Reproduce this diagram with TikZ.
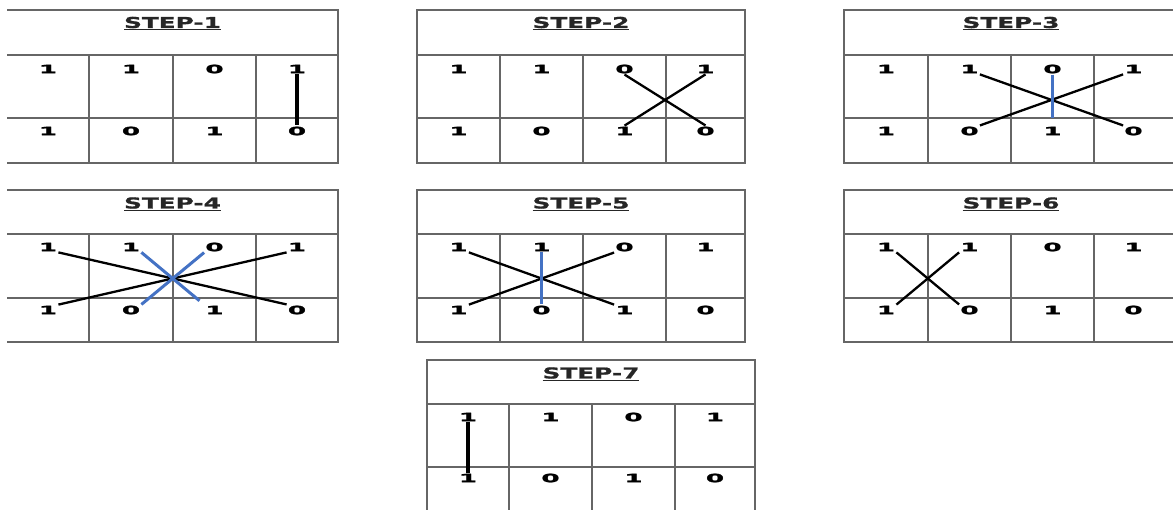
\documentclass[tikz,border=0pt]{standalone}
\usepackage{fontspec}
\newfontfamily\titlefont[UprightFont={* Bold}, FakeStretch=1.65, FakeBold=1.2]{DejaVu Sans}
\newfontfamily\digitfont[UprightFont={* Bold}, FakeStretch=2.3, FakeBold=1.5]{DejaVu Sans}
\definecolor{stepblue}{HTML}{4472C4}
\tikzset{
  gridline/.style={draw=black!60, line width=1.3pt},
  steptitle/.style={font=\titlefont\fontsize{15}{15}\selectfont, text=black!85},
  digit/.style={font=\digitfont\fontsize{11.5}{11.5}\selectfont, inner sep=1pt},
  crossline/.style={line width=2.3pt},
  fixline/.style={line width=3.4pt},
  blueline/.style={stepblue, line width=3pt},
}
\begin{document}
\begin{tikzpicture}[x=1pt, y=-1pt]
  \useasboundingbox (0,0) rectangle (1173,509);

  % STEP-1
  \draw[gridline] (7,10) -- (338,10) -- (338,163) -- (7,163);
  \draw[gridline] (7,55) -- (338,55) (7,118) -- (338,118);
  \draw[gridline] (89,55) -- (89,163) (173,55) -- (173,163) (256,55) -- (256,163);
  \node[steptitle] (s1title) at (172.5,23.5) {\underline{STEP-1}};
  \node[digit] (s1t1) at (48,69) {1};
  \node[digit] (s1t2) at (131,69) {1};
  \node[digit] (s1t3) at (214.5,69) {0};
  \node[digit] (s1t4) at (297,69) {1};
  \node[digit] (s1b1) at (48,131) {1};
  \node[digit] (s1b2) at (131,131) {0};
  \node[digit] (s1b3) at (214.5,131) {1};
  \node[digit] (s1b4) at (297,131) {0};
  \draw[fixline] (s1t4.south) -- (s1b4.north);

  % STEP-2
  \draw[gridline] (417,10) rectangle (745,163);
  \draw[gridline] (417,55) -- (745,55) (417,118) -- (745,118);
  \draw[gridline] (500,55) -- (500,163) (583,55) -- (583,163) (666,55) -- (666,163);
  \node[steptitle] (s2title) at (581,23.5) {\underline{STEP-2}};
  \node[digit] (s2t1) at (458.5,69) {1};
  \node[digit] (s2t2) at (541.5,69) {1};
  \node[digit] (s2t3) at (624.5,69) {0};
  \node[digit] (s2t4) at (705.5,69) {1};
  \node[digit] (s2b1) at (458.5,131) {1};
  \node[digit] (s2b2) at (541.5,131) {0};
  \node[digit] (s2b3) at (624.5,131) {1};
  \node[digit] (s2b4) at (705.5,131) {0};
  \draw[crossline] (s2t3.south) -- (s2b4.north);
  \draw[crossline] (s2t4.south) -- (s2b3.north);

  % STEP-3
  \draw[gridline] (1173,10) -- (844,10) -- (844,163) -- (1173,163);
  \draw[gridline] (844,55) -- (1173,55) (844,118) -- (1173,118);
  \draw[gridline] (928,55) -- (928,163) (1011,55) -- (1011,163) (1094,55) -- (1094,163);
  \node[steptitle] (s3title) at (1011,23.5) {\underline{STEP-3}};
  \node[digit] (s3t1) at (886,69) {1};
  \node[digit] (s3t2) at (969.5,69) {1};
  \node[digit] (s3t3) at (1052.5,69) {0};
  \node[digit] (s3t4) at (1133.5,69) {1};
  \node[digit] (s3b1) at (886,131) {1};
  \node[digit] (s3b2) at (969.5,131) {0};
  \node[digit] (s3b3) at (1052.5,131) {1};
  \node[digit] (s3b4) at (1133.5,131) {0};
  \draw[crossline] (s3t2.south east) -- (s3b4.north west);
  \draw[crossline] (s3t4.south west) -- (s3b2.north east);
  \draw[blueline, shorten >=8pt] (s3t3.south) -- (s3b3.north);

  % STEP-4
  \draw[gridline] (7,190) -- (338,190) -- (338,342) -- (7,342);
  \draw[gridline] (7,234) -- (338,234) (7,298) -- (338,298);
  \draw[gridline] (89,234) -- (89,342) (173,234) -- (173,342) (256,234) -- (256,342);
  \node[steptitle] (s4title) at (172.5,204) {\underline{STEP-4}};
  \node[digit] (s4t1) at (48,247) {1};
  \node[digit] (s4t2) at (131,247) {1};
  \node[digit] (s4t3) at (214.5,247) {0};
  \node[digit] (s4t4) at (297,247) {1};
  \node[digit] (s4b1) at (48,310) {1};
  \node[digit] (s4b2) at (131,310) {0};
  \node[digit] (s4b3) at (214.5,310) {1};
  \node[digit] (s4b4) at (297,310) {0};
  \draw[crossline] (s4t1.south east) -- (s4b4.north west);
  \draw[crossline] (s4b1.north east) -- (s4t4.south west);
  \draw[blueline, shorten >=6pt] (s4t2.south east) -- (s4b3.north west);
  \draw[blueline] (s4t3.south west) -- (s4b2.north east);

  % STEP-5
  \draw[gridline] (417,190) rectangle (745,342);
  \draw[gridline] (417,234) -- (745,234) (417,298) -- (745,298);
  \draw[gridline] (500,234) -- (500,342) (583,234) -- (583,342) (666,234) -- (666,342);
  \node[steptitle] (s5title) at (581,204) {\underline{STEP-5}};
  \node[digit] (s5t1) at (458.5,247) {1};
  \node[digit] (s5t2) at (541.5,247) {1};
  \node[digit] (s5t3) at (624.5,247) {0};
  \node[digit] (s5t4) at (705.5,247) {1};
  \node[digit] (s5b1) at (458.5,310) {1};
  \node[digit] (s5b2) at (541.5,310) {0};
  \node[digit] (s5b3) at (624.5,310) {1};
  \node[digit] (s5b4) at (705.5,310) {0};
  \draw[crossline] (s5t1.south east) -- (s5b3.north west);
  \draw[crossline] (s5t3.south west) -- (s5b1.north east);
  \draw[blueline] (s5t2.south) -- (s5b2.north);

  % STEP-6
  \draw[gridline] (1173,190) -- (844,190) -- (844,342) -- (1173,342);
  \draw[gridline] (844,234) -- (1173,234) (844,298) -- (1173,298);
  \draw[gridline] (928,234) -- (928,342) (1011,234) -- (1011,342) (1094,234) -- (1094,342);
  \node[steptitle] (s6title) at (1011,204) {\underline{STEP-6}};
  \node[digit] (s6t1) at (886,247) {1};
  \node[digit] (s6t2) at (969.5,247) {1};
  \node[digit] (s6t3) at (1052.5,247) {0};
  \node[digit] (s6t4) at (1133.5,247) {1};
  \node[digit] (s6b1) at (886,310) {1};
  \node[digit] (s6b2) at (969.5,310) {0};
  \node[digit] (s6b3) at (1052.5,310) {1};
  \node[digit] (s6b4) at (1133.5,310) {0};
  \draw[crossline] (s6t1.south east) -- (s6b2.north west);
  \draw[crossline] (s6t2.south west) -- (s6b1.north east);

  % STEP-7
  \draw[gridline] (427,512) -- (427,360) -- (755,360) -- (755,512);
  \draw[gridline] (427,404) -- (755,404) (427,467) -- (755,467);
  \draw[gridline] (509,404) -- (509,512) (592,404) -- (592,512) (675,404) -- (675,512);
  \node[steptitle] (s7title) at (591,374) {\underline{STEP-7}};
  \node[digit] (s7t1) at (468,417) {1};
  \node[digit] (s7t2) at (550.5,417) {1};
  \node[digit] (s7t3) at (633.5,417) {0};
  \node[digit] (s7t4) at (715,417) {1};
  \node[digit] (s7b1) at (468,478) {1};
  \node[digit] (s7b2) at (550.5,478) {0};
  \node[digit] (s7b3) at (633.5,478) {1};
  \node[digit] (s7b4) at (715,478) {0};
  \draw[fixline] (s7t1.south) -- (s7b1.north);
\end{tikzpicture}
\end{document}
